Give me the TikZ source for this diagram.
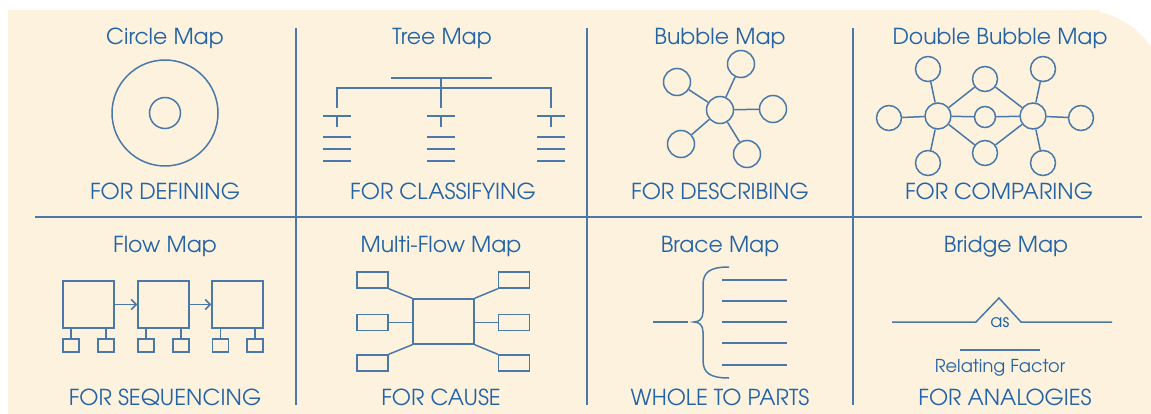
\documentclass[tikz,border=0pt]{standalone}
\usepackage{fontspec}
\setmainfont{TeX Gyre Adventor}
\usetikzlibrary{positioning,arrows.meta}

\definecolor{paper}{HTML}{FDF2DD}
\definecolor{ink}{HTML}{4A78A9}
\definecolor{txt}{HTML}{2363A6}

\tikzset{
  wire/.style={draw=ink, line width=1.5pt},
  rule/.style={draw=ink, line width=1.8pt},
  ring/.style={circle, draw=ink, line width=1.5pt, inner sep=0pt},
  box/.style={rectangle, draw=ink, line width=1.5pt, inner sep=0pt},
  head/.style={text=txt, font=\fontsize{22}{26}\selectfont, anchor=base, inner sep=0pt},
  small/.style={text=txt, font=\fontsize{17.8}{20}\selectfont, anchor=base, inner sep=0pt},
}

\begin{document}
\begin{tikzpicture}[x=1pt,y=-1pt]
\useasboundingbox (0,0) rectangle (1151,414);

\def\ca{165}
\def\cb{442}
\def\cc{720}
\def\cd{1000}

\def\ra{45}
\def\rb{200}
\def\rc{252}
\def\rd{405}

% paper
\fill[paper] (8,10) rectangle (1100,600);
\fill[paper, rounded corners=85pt] (900,10) rectangle (1166,600);

% grid
\draw[rule] (296,28) -- (296,405);
\draw[rule] (587,28) -- (587,405);
\draw[rule] (853,28) -- (853,405);
\draw[rule] (35,217) -- (1142,217);

% titles
\node[head](t1) at (\ca, \ra) {Circle Map};
\node[head](t2) at (\cb, \ra) {Tree Map};
\node[head](t3) at (\cc, \ra) {Bubble Map};
\node[head](t4) at (\cd, \ra) {Double Bubble Map};
\node[head](t5) at (\ca, \rc) {Flow Map};
\node[head](t6) at (\cb - 1, \rc) {Multi-Flow Map};
\node[head](t7) at (\cc, \rc) {Brace Map};
\node[head](t8) at (\cd + 6, \rc) {Bridge Map};

\node[head](u1) at (\ca, \rb) {FOR DEFINING};
\node[head](u2) at (\cb + 1, \rb) {FOR CLASSIFYING};
\node[head](u3) at (\cc, \rb) {FOR DESCRIBING};
\node[head](u4) at (\cd - 1, \rb) {FOR COMPARING};
\node[head](u5) at (\ca, \rd) {FOR SEQUENCING};
\node[head](u6) at (\cb - 1, \rd) {FOR CAUSE};
\node[head](u7) at (\cc, \rd) {WHOLE TO PARTS};
\node[head](u8) at (\cd + 5, \rd) {FOR ANALOGIES};

% circle map
\node[ring, minimum size=106pt](co) at (\ca, 113) {};
\node[ring, minimum size=31pt](ci) at (\ca, 113) {};

% tree map
\draw[wire] (391,78) -- (492,78);
\draw[wire] (441,78) -- (441,108);
\draw[wire] (337,108) -- (337,88) -- (551,88) -- (551,108);

\draw[wire] (323,116) -- (351,116);
\draw[wire] (337,116) -- (337,127);
\draw[wire] (323,137) -- (351,137);
\draw[wire] (323,149) -- (351,149);
\draw[wire] (323,161) -- (351,161);

\draw[wire] (427,116) -- (455,116);
\draw[wire] (441,116) -- (441,127);
\draw[wire] (427,137) -- (455,137);
\draw[wire] (427,149) -- (455,149);
\draw[wire] (427,161) -- (455,161);

\draw[wire] (537,116) -- (565,116);
\draw[wire] (551,116) -- (551,127);
\draw[wire] (537,137) -- (565,137);
\draw[wire] (537,149) -- (565,149);
\draw[wire] (537,161) -- (565,161);

% bubble map
\node[ring, minimum size=27pt](b0) at (\cc, 110) {};
\node[ring, minimum size=27pt](b1) at (741, 64) {};
\node[ring, minimum size=27pt](b2) at (677, 82) {};
\node[ring, minimum size=27pt](b3) at (773, 109) {};
\node[ring, minimum size=27pt](b4) at (681, 144) {};
\node[ring, minimum size=27pt](b5) at (747, 154) {};

\draw[wire] (b0) -- (b1);
\draw[wire] (b0) -- (b2);
\draw[wire] (b0) -- (b3);
\draw[wire] (b0) -- (b4);
\draw[wire] (b0) -- (b5);

% double bubble map
\node[ring, minimum size=26pt](dl) at (938, 116) {};
\node[ring, minimum size=26pt](dr) at (1033, 116) {};
\node[ring, minimum size=21pt](dm) at (985, 117) {};
\node[ring, minimum size=25pt](dt) at (985, 79) {};
\node[ring, minimum size=25pt](db) at (985, 153) {};
\node[ring, minimum size=25pt](dl1) at (928, 69) {};
\node[ring, minimum size=25pt](dl2) at (889, 118) {};
\node[ring, minimum size=25pt](dl3) at (928, 163) {};
\node[ring, minimum size=25pt](dr1) at (1043, 69) {};
\node[ring, minimum size=25pt](dr2) at (1081, 118) {};
\node[ring, minimum size=25pt](dr3) at (1043, 163) {};

\draw[wire] (dl) -- (dl1);
\draw[wire] (dl) -- (dl2);
\draw[wire] (dl) -- (dl3);
\draw[wire] (dr) -- (dr1);
\draw[wire] (dr) -- (dr2);
\draw[wire] (dr) -- (dr3);
\draw[wire] (dl) -- (dt);
\draw[wire] (dl) -- (dm);
\draw[wire] (dl) -- (db);
\draw[wire] (dr) -- (dt);
\draw[wire] (dr) -- (dm);
\draw[wire] (dr) -- (db);

% flow map
\node[box, minimum width=51pt, minimum height=47pt](f1) at (88.5, 304.5) {};
\node[box, minimum width=51pt, minimum height=47pt](f2) at (163.5, 304.5) {};
\node[box, minimum width=51pt, minimum height=47pt](f3) at (237.5, 304.5) {};

\draw[wire, -{Straight Barb[length=5pt, width=10pt]}] (f1) -- (f2);
\draw[wire, -{Straight Barb[length=5pt, width=10pt]}] (f2) -- (f3);

\node[box, minimum width=16pt, minimum height=13pt](s1) at (71, 345.5) {};
\node[box, minimum width=16pt, minimum height=13pt](s2) at (106, 345.5) {};
\node[box, minimum width=16pt, minimum height=13pt](s3) at (146, 345.5) {};
\node[box, minimum width=16pt, minimum height=13pt](s4) at (181, 345.5) {};
\node[box, minimum width=16pt, minimum height=13pt](s5) at (220.5, 345.5) {};
\node[box, minimum width=16pt, minimum height=13pt](s6) at (255, 345.5) {};

\draw[wire] (s1.north) -- (s1.north |- f1.south);
\draw[wire] (s2.north) -- (s2.north |- f1.south);
\draw[wire] (s3.north) -- (s3.north |- f2.south);
\draw[wire] (s4.north) -- (s4.north |- f2.south);
\draw[wire] (s5.north) -- (s5.north |- f3.south);
\draw[wire] (s6.north) -- (s6.north |- f3.south);

% multi-flow map
\node[box, minimum width=61pt, minimum height=45pt](m0) at (443.5, 321.5) {};
\node[box, minimum width=31pt, minimum height=16pt](ml1) at (372.5, 280) {};
\node[box, minimum width=31pt, minimum height=16pt](ml2) at (372.5, 322.5) {};
\node[box, minimum width=31pt, minimum height=16pt](ml3) at (372.5, 363) {};
\node[box, minimum width=31pt, minimum height=16pt](mr1) at (514, 280) {};
\node[box, minimum width=31pt, minimum height=16pt](mr2) at (514, 322.5) {};
\node[box, minimum width=31pt, minimum height=16pt](mr3) at (514, 363) {};

\draw[wire] (ml1.south east) -- (m0.north west);
\draw[wire] (ml2.east) -- (ml2.east -| m0.west);
\draw[wire] (ml3.north east) -- (m0.south west);
\draw[wire] (mr1.south west) -- (m0.north east);
\draw[wire] (mr2.west) -- (mr2.west -| m0.east);
\draw[wire] (mr3.north west) -- (m0.south east);

% brace map
\draw[wire] (653,322) -- (688,322);
\draw[wire] (729,267) .. controls (710,267) and (703,272) .. (703,285) -- (703,312)
  .. controls (703,319) and (699,322) .. (694,322)
  .. controls (699,322) and (703,325) .. (703,332) -- (703,360)
  .. controls (703,373) and (710,378) .. (729,378);
\draw[wire] (722,280) -- (787,280);
\draw[wire] (722,301) -- (787,301);
\draw[wire] (722,322) -- (787,322);
\draw[wire] (722,343) -- (787,343);
\draw[wire] (722,365) -- (787,365);

% bridge map
\draw[wire] (892,322) -- (976,322) -- (999,298) -- (1021,322) -- (1112,322);
\draw[wire] (960,350) -- (1040,350);
\node[small](as) at (\cd, 327) {as};
\node[small](rf) at (\cd, 372) {Relating Factor};

\end{tikzpicture}
\end{document}
